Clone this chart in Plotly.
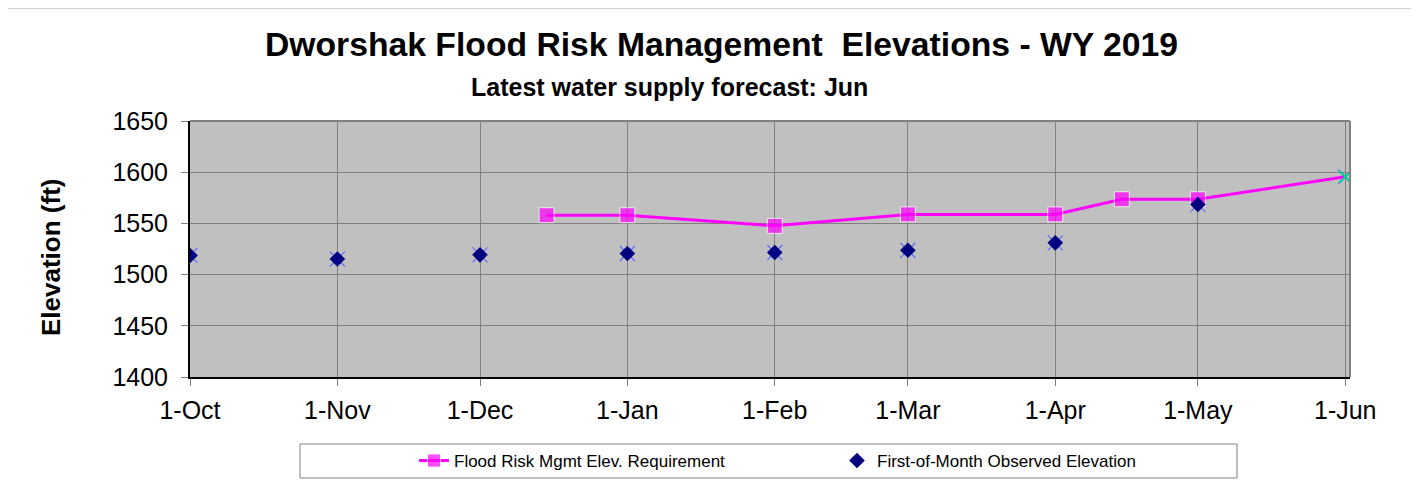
import plotly.graph_objects as go

# Data
frm_dates = ["2018-12-15", "2019-01-01", "2019-02-01", "2019-03-01", "2019-04-01",
             "2019-04-15", "2019-05-01", "2019-06-01"]
frm_elev = [1558, 1558, 1547.6, 1558.8, 1558.8, 1573.6, 1573.6, 1595.5]

obs_dates = ["2018-10-01", "2018-11-01", "2018-12-01", "2019-01-01", "2019-02-01",
             "2019-03-01", "2019-04-01", "2019-05-01"]
obs_elev = [1518.7, 1515.2, 1519.3, 1520.6, 1521.6, 1523.8, 1531.0, 1568.4]

fcst_dates = ["2019-06-01"]
fcst_elev = [1595.5]

tick_vals = ["2018-10-01", "2018-11-01", "2018-12-01", "2019-01-01", "2019-02-01",
             "2019-03-01", "2019-04-01", "2019-05-01", "2019-06-01"]
tick_text = ["1-Oct", "1-Nov", "1-Dec", "1-Jan", "1-Feb", "1-Mar", "1-Apr", "1-May", "1-Jun"]

# page body has an 8px margin; work in screen coordinates and compensate
OFF = 8
W, H = 1419 - OFF, 481 - OFF
L, R, T, B = 190 - OFF, 69, 121 - OFF, 104
pw, ph = W - L - R, H - T - B


def px(x):
    return (x - OFF - L) / pw


def py(y):
    return (H - B - (y - OFF)) / ph


fig = go.Figure()

# purple x markers behind observed points
fig.add_trace(go.Scatter(
    x=obs_dates + fcst_dates, y=obs_elev + fcst_elev, mode="markers",
    marker=dict(symbol="x-thin-open", size=15, line=dict(color="#8A78B8", width=1.2)),
    showlegend=False, hoverinfo="skip"))

fig.add_trace(go.Scatter(
    x=frm_dates, y=frm_elev, mode="lines+markers",
    name="Flood Risk Mgmt Elev. Requirement",
    line=dict(color="#FF00FF", width=3),
    marker=dict(symbol="square", size=[15] * (len(frm_dates) - 1) + [0], color="#FF00FF")))

fig.add_trace(go.Scatter(
    x=fcst_dates, y=fcst_elev, mode="markers",
    marker=dict(symbol="x-thin-open", size=12, line=dict(color="#A4B85A", width=2)),
    showlegend=False, hoverinfo="skip"))

fig.add_trace(go.Scatter(
    x=obs_dates, y=obs_elev, mode="markers",
    name="First-of-Month Observed Elevation",
    marker=dict(symbol="diamond", size=12, color="#000080")))

fig.update_layout(
    width=W, height=H,
    margin=dict(l=L, r=R, t=T, b=B, autoexpand=False),
    paper_bgcolor="white", plot_bgcolor="#C0C0C0",
    font=dict(family="Liberation Sans, Arial, sans-serif", color="black"),
    showlegend=True,
    legend=dict(orientation="h", x=px(414), y=py(461), xanchor="left", yanchor="middle",
                bgcolor="rgba(0,0,0,0)", borderwidth=0,
                font=dict(size=17, family="Liberation Sans, Arial, sans-serif"),
                entrywidth=378, entrywidthmode="pixels", itemwidth=30),
)

fig.update_xaxes(
    type="date", range=["2018-10-01", "2019-06-02"],
    tickmode="array", tickvals=tick_vals, ticktext=tick_text,
    showgrid=True, gridcolor="#808080", gridwidth=1,
    showline=True, linecolor="black", linewidth=2,
    ticks="outside", ticklen=7, tickcolor="#808080",
    tickfont=dict(size=25), ticklabelstandoff=3, zeroline=False, automargin=False)

fig.update_yaxes(
    range=[1400, 1650], dtick=50, tick0=1400,
    showgrid=True, gridcolor="#808080", gridwidth=1,
    showline=True, linecolor="black", linewidth=2,
    ticks="outside", ticklen=7, tickcolor="#808080",
    tickfont=dict(size=25), ticklabelstandoff=8, zeroline=False, automargin=False)

fig.add_annotation(text="<b>Elevation (ft)</b>", xref="paper", yref="paper",
                   x=px(51), y=py(258), textangle=-90, showarrow=False,
                   font=dict(size=26), xanchor="center", yanchor="middle")

# plot top and right border
fig.add_shape(type="line", xref="paper", yref="paper", x0=0, x1=1, y0=1, y1=1,
              line=dict(color="#808080", width=2))
fig.add_shape(type="line", xref="paper", yref="paper", x0=1, x1=1, y0=0, y1=1,
              line=dict(color="#808080", width=2))

# outer chart border
fig.add_shape(type="rect", xref="paper", yref="paper",
              x0=px(3), x1=px(1430), y0=py(8), y1=py(495),
              line=dict(color="#A0A0A0", width=1), layer="below")

# legend box
fig.add_shape(type="rect", xref="paper", yref="paper",
              x0=px(300), x1=px(1237), y0=py(444), y1=py(478),
              line=dict(color="#808080", width=1), fillcolor="white", layer="below")

fig.add_annotation(text="<b>Dworshak Flood Risk Management  Elevations - WY 2019</b>",
                   xref="paper", yref="paper", x=px(721), y=py(44),
                   showarrow=False, font=dict(size=33.7), xanchor="center", yanchor="middle")
fig.add_annotation(text="<b>Latest water supply forecast: Jun</b>",
                   xref="paper", yref="paper", x=px(669), y=py(87),
                   showarrow=False, font=dict(size=25), xanchor="center", yanchor="middle")

fig.write_html("out.html")
